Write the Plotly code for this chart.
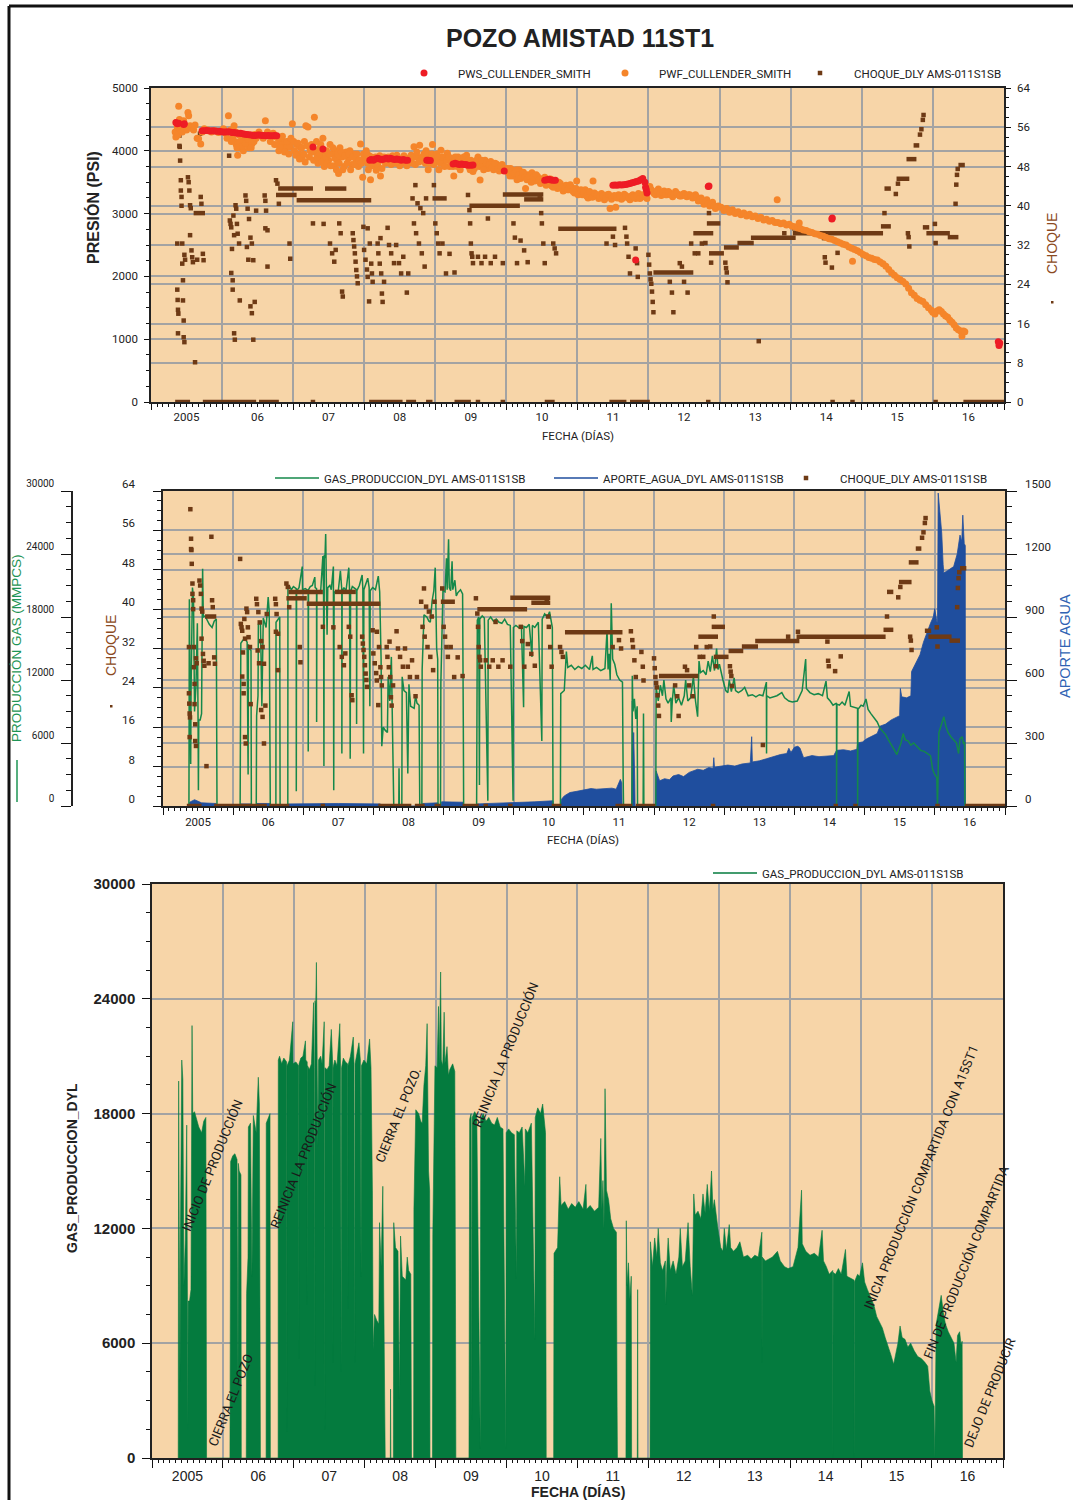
import pandas as pd
import plotly.graph_objects as go

W, H = 1073, 1500

# ---------------------------------------------------------------- data
# (decimal year, value) pairs
GAS = [
    (2005.370, 0), (2005.376, 19700), (2005.385, 11400), (2005.395, 4000), (2005.400, 11000),
    (2005.420, 20800), (2005.435, 19800), (2005.450, 9000), (2005.470, 11400), (2005.490, 17400),
    (2005.500, 8300), (2005.505, 1500), (2005.510, 8200), (2005.530, 8200), (2005.550, 8800),
    (2005.565, 22600), (2005.575, 18000), (2005.600, 18100), (2005.630, 17700), (2005.660, 17300),
    (2005.700, 17000), (2005.730, 17600), (2005.760, 17800), (2005.770, 0),
    (2006.100, 0), (2006.105, 12500), (2006.110, 15500), (2006.140, 15800), (2006.170, 15900),
    (2006.200, 15600), (2006.214, 3000), (2006.218, 15400), (2006.230, 15000), (2006.255, 14800),
    (2006.260, 0),
    (2006.330, 0), (2006.335, 8600), (2006.355, 10500), (2006.360, 17300), (2006.390, 17500),
    (2006.410, 9500), (2006.430, 17900), (2006.470, 17000), (2006.500, 19900), (2006.515, 18500),
    (2006.530, 0),
    (2006.610, 0), (2006.612, 17500), (2006.640, 17800), (2006.665, 18000), (2006.670, 0),
    (2006.780, 0), (2006.782, 20800), (2006.800, 21000), (2006.830, 20600), (2006.860, 20900),
    (2006.900, 20700), (2006.901, 1400), (2006.905, 20500), (2006.940, 20800), (2006.986, 22800),
    (2006.990, 20600), (2007.030, 20700), (2007.070, 20500), (2007.071, 5200), (2007.075, 20600),
    (2007.100, 20900), (2007.130, 21000), (2007.165, 21800), (2007.170, 20800), (2007.190, 20700),
    (2007.191, 8000), (2007.195, 20500), (2007.220, 20300), (2007.250, 20600), (2007.280, 23800),
    (2007.290, 20400), (2007.295, 3800), (2007.300, 23900), (2007.310, 23600), (2007.320, 25900),
    (2007.330, 21000), (2007.340, 16300), (2007.350, 20800), (2007.380, 21000), (2007.400, 20600),
    (2007.430, 22800), (2007.435, 1500), (2007.440, 20400), (2007.470, 20300), (2007.500, 20500),
    (2007.530, 22400), (2007.550, 20600), (2007.551, 5000), (2007.555, 20400), (2007.580, 20800),
    (2007.610, 20500), (2007.650, 22700), (2007.660, 20600), (2007.670, 4500), (2007.675, 20400),
    (2007.700, 20900), (2007.730, 20700), (2007.760, 20600), (2007.761, 7800), (2007.765, 20500),
    (2007.800, 21000), (2007.840, 22000), (2007.850, 20700), (2007.860, 5000), (2007.865, 20600),
    (2007.900, 21200), (2007.920, 21700), (2007.940, 20800), (2007.950, 9500), (2007.955, 20500),
    (2007.990, 20800), (2008.030, 20600), (2008.070, 21900), (2008.090, 20400), (2008.100, 18000),
    (2008.110, 14000), (2008.120, 5700),
    (2008.140, 7500), (2008.170, 7200), (2008.200, 7000), (2008.210, 12300), (2008.233, 10000),
    (2008.256, 14200), (2008.270, 9500), (2008.290, 0), (2008.362, 0), (2008.365, 3600),
    (2008.370, 0), (2008.405, 0), (2008.410, 12300), (2008.435, 11000), (2008.470, 10800),
    (2008.490, 3100), (2008.506, 11600), (2008.530, 9500), (2008.580, 9300), (2008.600, 10500),
    (2008.620, 9800), (2008.650, 9600), (2008.660, 0), (2008.690, 0), (2008.694, 13000),
    (2008.720, 18200), (2008.760, 18000), (2008.790, 17600), (2008.810, 17500), (2008.835, 19500),
    (2008.860, 20500), (2008.880, 22700), (2008.900, 15000), (2008.915, 14000), (2008.920, 0),
    (2008.955, 0), (2008.960, 11700), (2008.990, 20500), (2009.020, 20400), (2009.040, 23600),
    (2009.050, 20600), (2009.070, 25400), (2009.080, 20800), (2009.100, 20500), (2009.120, 23300),
    (2009.130, 20600), (2009.160, 21500), (2009.180, 20000), (2009.200, 20300), (2009.240, 20600),
    (2009.270, 20200), (2009.280, 8000), (2009.285, 0),
    (2009.470, 0), (2009.472, 11500), (2009.480, 17700), (2009.500, 18000), (2009.510, 2000),
    (2009.515, 17800), (2009.550, 18100), (2009.580, 17900), (2009.630, 500), (2009.635, 17700),
    (2009.670, 18000), (2009.710, 17600), (2009.750, 17800), (2009.790, 17500), (2009.830, 17400),
    (2009.870, 17800), (2009.910, 17300), (2009.950, 17200), (2009.990, 500), (2009.995, 17000),
    (2010.030, 17200), (2010.070, 17000), (2010.110, 16900), (2010.140, 9400), (2010.145, 17100),
    (2010.180, 17000), (2010.220, 17300), (2010.260, 14200), (2010.265, 17200), (2010.300, 17000),
    (2010.350, 17500), (2010.400, 6200), (2010.405, 17800), (2010.440, 18300), (2010.480, 18000),
    (2010.510, 18500), (2010.530, 17600), (2010.550, 17000), (2010.560, 0),
    (2010.665, 0), (2010.670, 10700), (2010.720, 11000), (2010.740, 13500), (2010.750, 14700),
    (2010.770, 13200), (2010.820, 13400), (2010.870, 13000), (2010.920, 13300), (2010.970, 13100),
    (2011.020, 13400), (2011.080, 13000), (2011.120, 14300), (2011.130, 13000), (2011.180, 13200),
    (2011.240, 12900), (2011.300, 13100), (2011.330, 16700), (2011.345, 13000), (2011.360, 14500),
    (2011.375, 12000), (2011.390, 19300), (2011.410, 14000), (2011.440, 13500), (2011.470, 12500),
    (2011.510, 12000), (2011.550, 11800), (2011.560, 2700), (2011.565, 0),
    (2011.685, 0), (2011.690, 12400), (2011.700, 9000), (2011.720, 10200), (2011.740, 8300),
    (2011.760, 9500), (2011.765, 0),
    (2011.845, 0), (2011.850, 8800), (2011.855, 0),
    (2012.025, 0), (2012.030, 11300), (2012.060, 10000), (2012.090, 11500), (2012.120, 10500),
    (2012.140, 12000), (2012.170, 10200), (2012.200, 9800), (2012.240, 10300), (2012.245, 8000),
    (2012.260, 10000), (2012.280, 11500), (2012.310, 9800), (2012.350, 10300), (2012.390, 9600),
    (2012.430, 10500), (2012.450, 12000), (2012.480, 10000), (2012.520, 10300), (2012.560, 12300),
    (2012.590, 10000), (2012.620, 8500), (2012.640, 13800), (2012.660, 12700), (2012.700, 12900),
    (2012.740, 12500), (2012.770, 13800), (2012.800, 12800), (2012.830, 14300), (2012.860, 12900),
    (2012.890, 15000), (2012.910, 13000), (2012.930, 13500), (2012.960, 12500), (2012.980, 12000),
    (2013.020, 11000), (2013.050, 10800), (2013.070, 12000), (2013.100, 10900), (2013.140, 12200),
    (2013.160, 11000), (2013.200, 10800), (2013.250, 11000), (2013.290, 11300), (2013.340, 10500),
    (2013.400, 10600), (2013.450, 10400), (2013.500, 10600), (2013.550, 10500), (2013.600, 11800),
    (2013.602, 5000), (2013.605, 10500), (2013.650, 10300), (2013.700, 10400), (2013.750, 10500),
    (2013.820, 10800), (2013.860, 10300), (2013.920, 10000), (2013.970, 9900), (2014.040, 10000),
    (2014.080, 10500), (2014.110, 11000), (2014.160, 14000), (2014.170, 11200), (2014.220, 10800),
    (2014.280, 10600), (2014.340, 10700), (2014.400, 10500), (2014.450, 11900), (2014.470, 10300),
    (2014.510, 10000), (2014.550, 9600), (2014.600, 9800), (2014.601, 0), (2014.606, 9700),
    (2014.640, 9600), (2014.680, 9900), (2014.720, 9600), (2014.780, 10900), (2014.800, 9500),
    (2014.850, 9400), (2014.900, 9300), (2014.901, 0), (2014.906, 9200), (2014.950, 9600),
    (2014.980, 9500), (2015.020, 10200), (2015.050, 9200), (2015.090, 8800), (2015.130, 8400),
    (2015.180, 8000), (2015.220, 7400), (2015.260, 7100), (2015.300, 6800), (2015.340, 6300),
    (2015.380, 5900), (2015.420, 5400), (2015.460, 4900), (2015.480, 5300), (2015.520, 6000),
    (2015.550, 6900), (2015.580, 6300), (2015.620, 6200), (2015.660, 5800), (2015.700, 6000),
    (2015.750, 5600), (2015.800, 5300), (2015.850, 5200), (2015.900, 5000), (2015.940, 4800),
    (2015.970, 3500), (2016.000, 3000), (2016.030, 2700), (2016.040, 0), (2016.060, 7000),
    (2016.100, 7800), (2016.130, 8500), (2016.160, 7600), (2016.190, 7000), (2016.230, 6600),
    (2016.270, 6300), (2016.310, 6000), (2016.340, 5000), (2016.360, 6400), (2016.390, 6600),
    (2016.410, 5900), (2016.425, 6100), (2016.430, 0),
]

WATER = [
    (2005.370, 0), (2005.380, 18), (2005.450, 30), (2005.550, 15), (2005.760, 12), (2005.770, 0),
    (2006.100, 0), (2006.110, 10), (2006.260, 10), (2006.270, 0),
    (2006.330, 0), (2006.340, 12), (2006.530, 12), (2006.540, 0),
    (2006.780, 0), (2006.790, 10), (2007.500, 12), (2008.100, 10), (2008.110, 0),
    (2008.690, 0), (2008.700, 12), (2008.920, 15), (2008.930, 0),
    (2008.960, 0), (2008.970, 20), (2009.280, 18), (2009.285, 0),
    (2009.470, 0), (2009.480, 10), (2010.000, 15), (2010.300, 20), (2010.560, 25), (2010.565, 0),
    (2010.665, 0), (2010.680, 32), (2010.720, 48), (2010.800, 64), (2010.900, 70), (2011.000, 75),
    (2011.100, 83), (2011.180, 80), (2011.300, 82), (2011.400, 85), (2011.460, 80), (2011.490, 103),
    (2011.520, 127), (2011.540, 110), (2011.545, 0),
    (2011.680, 0), (2011.685, 380), (2011.690, 500), (2011.700, 250), (2011.710, 350),
    (2011.725, 120), (2011.730, 0),
    (2012.025, 0), (2012.030, 167), (2012.080, 120), (2012.150, 130), (2012.220, 125),
    (2012.270, 143), (2012.350, 150), (2012.420, 140), (2012.500, 160), (2012.550, 167),
    (2012.620, 175), (2012.700, 170), (2012.780, 183), (2012.840, 178), (2012.850, 230),
    (2012.860, 185), (2012.950, 190), (2013.050, 195), (2013.150, 190), (2013.250, 200),
    (2013.370, 205), (2013.390, 330), (2013.400, 210), (2013.500, 215), (2013.600, 225),
    (2013.700, 235), (2013.800, 245), (2013.890, 250), (2013.920, 275), (2013.950, 255),
    (2014.000, 280), (2014.050, 285), (2014.080, 275), (2014.130, 230), (2014.250, 240),
    (2014.350, 235), (2014.450, 238), (2014.560, 240), (2014.600, 265), (2014.700, 268),
    (2014.800, 262), (2014.890, 270), (2014.900, 300), (2014.970, 305), (2015.030, 320),
    (2015.100, 330), (2015.180, 345), (2015.220, 380), (2015.300, 390), (2015.380, 410),
    (2015.460, 425), (2015.500, 430), (2015.510, 560), (2015.530, 520), (2015.600, 515),
    (2015.660, 525), (2015.670, 640), (2015.730, 680), (2015.790, 720), (2015.840, 780),
    (2015.890, 830), (2015.940, 870), (2015.980, 900), (2016.000, 940), (2016.030, 880),
    (2016.040, 870), (2016.050, 1490), (2016.070, 1420), (2016.090, 1350), (2016.100, 1300),
    (2016.120, 1150), (2016.130, 1110), (2016.180, 1120), (2016.230, 1130), (2016.270, 1140),
    (2016.320, 1200), (2016.360, 1290), (2016.385, 1260), (2016.400, 1385), (2016.420, 1250),
    (2016.435, 1240), (2016.437, 0),
]

# individual choke readings
CHOKE = [
    (2005.370, 32.3), (2005.370, 22.9), (2005.375, 20.8), (2005.380, 18.8), (2005.380, 14.0),
    (2005.385, 18.0), (2005.390, 60.3), (2005.400, 54.3), (2005.400, 52.2), (2005.405, 52.0),
    (2005.410, 49.2), (2005.420, 45.2), (2005.420, 43.1), (2005.430, 41.8), (2005.430, 40.0),
    (2005.440, 32.3), (2005.440, 28.2), (2005.450, 24.8), (2005.450, 20.7), (2005.460, 16.6),
    (2005.460, 13.2), (2005.470, 12.2), (2005.470, 30.0), (2005.480, 29.0), (2005.520, 45.8),
    (2005.530, 44.8), (2005.540, 43.1), (2005.550, 40.1), (2005.560, 39.5), (2005.570, 30.9),
    (2005.580, 29.5), (2005.590, 28.5), (2005.620, 8.1), (2005.650, 29.0), (2005.550, 34.0),
    (2005.690, 54.7), (2005.700, 41.8), (2005.710, 40.4), (2005.730, 30.2), (2005.740, 28.9),
    (2006.100, 50.2), (2006.110, 37.0), (2006.120, 36.3), (2006.130, 35.6), (2006.130, 26.3),
    (2006.140, 31.2), (2006.150, 24.8), (2006.150, 22.9), (2006.160, 38.0), (2006.170, 34.0),
    (2006.170, 14.0), (2006.180, 12.7), (2006.190, 40.1), (2006.200, 39.4), (2006.210, 36.3),
    (2006.220, 34.3), (2006.240, 32.3), (2006.250, 20.7), (2006.330, 42.1), (2006.340, 41.0),
    (2006.350, 31.6), (2006.360, 39.4), (2006.370, 29.0), (2006.380, 37.3), (2006.400, 33.5),
    (2006.400, 19.5), (2006.420, 32.3), (2006.420, 18.1), (2006.440, 28.9), (2006.440, 12.7),
    (2006.460, 20.4), (2006.480, 39.0), (2006.600, 42.1), (2006.610, 41.0), (2006.610, 35.4),
    (2006.620, 39.0), (2006.640, 35.0), (2006.640, 27.6), (2006.760, 45.2), (2006.780, 44.5),
    (2006.800, 40.4), (2006.950, 32.3), (2006.960, 29.2),
    (2007.280, 36.4), (2007.430, 36.3), (2007.520, 32.3), (2007.550, 30.3), (2007.580, 28.6),
    (2007.600, 31.0), (2007.650, 36.4), (2007.670, 34.4), (2007.690, 22.5), (2007.700, 21.5),
    (2007.840, 34.4), (2007.850, 33.0), (2007.860, 31.7), (2007.870, 30.3), (2007.880, 28.6),
    (2007.890, 26.9), (2007.900, 25.6), (2007.910, 24.2), (2007.990, 35.7), (2008.000, 31.0),
    (2008.020, 29.0), (2008.040, 27.0), (2008.050, 25.5), (2008.070, 20.5),
    (2008.050, 35.4), (2008.080, 32.3), (2008.100, 28.2), (2008.110, 26.2), (2008.120, 24.5),
    (2008.190, 32.3), (2008.200, 30.3), (2008.220, 28.2), (2008.230, 33.4), (2008.240, 26.2),
    (2008.250, 22.1), (2008.260, 20.4), (2008.280, 24.5), (2008.330, 35.5), (2008.350, 32.0),
    (2008.380, 30.3), (2008.420, 28.3), (2008.450, 32.0), (2008.490, 28.3), (2008.520, 26.2),
    (2008.550, 29.6), (2008.600, 22.3), (2008.620, 26.2), (2008.680, 41.5), (2008.700, 36.4),
    (2008.720, 44.2), (2008.730, 34.4), (2008.750, 40.5), (2008.770, 32.3), (2008.790, 39.5),
    (2008.810, 30.3), (2008.830, 38.5), (2008.850, 27.6), (2008.870, 41.5),
    (2008.980, 44.2), (2009.000, 36.4), (2009.020, 34.4), (2009.040, 32.3), (2009.060, 30.3),
    (2009.100, 32.3), (2009.150, 26.2), (2009.200, 30.2), (2009.270, 26.4), (2009.460, 42.2),
    (2009.480, 39.1), (2009.490, 36.4), (2009.500, 32.3), (2009.510, 30.3), (2009.520, 29.6),
    (2009.530, 28.3), (2009.600, 29.6), (2009.650, 28.3), (2009.700, 29.6), (2009.740, 37.4),
    (2009.780, 28.3), (2009.840, 29.6), (2009.950, 28.3), (2010.100, 36.4), (2010.120, 33.5),
    (2010.150, 28.3), (2010.200, 32.9), (2010.250, 30.9), (2010.300, 28.5),
    (2010.470, 41.5), (2010.490, 38.5), (2010.500, 36.4), (2010.520, 32.3), (2010.540, 28.3),
    (2010.660, 32.3), (2010.680, 31.3), (2010.700, 30.3),
    (2011.410, 32.3), (2011.500, 33.7), (2011.530, 32.0), (2011.670, 35.5), (2011.690, 33.7),
    (2011.700, 32.3), (2011.720, 29.6), (2011.740, 26.2), (2011.820, 31.3), (2011.840, 28.3),
    (2011.850, 25.5),
    (2012.000, 30.0), (2012.010, 28.0), (2012.020, 26.2), (2012.030, 25.0), (2012.040, 24.1),
    (2012.050, 22.5), (2012.060, 20.4), (2012.070, 18.3), (2012.300, 24.5), (2012.330, 22.3),
    (2012.350, 18.3), (2012.440, 28.3), (2012.470, 27.6), (2012.500, 24.5), (2012.550, 22.3),
    (2012.600, 32.3), (2012.650, 30.3), (2012.700, 30.3), (2012.750, 32.3), (2012.800, 32.4),
    (2012.850, 38.5), (2012.880, 28.4),
    (2013.080, 28.4), (2013.090, 27.3), (2013.100, 26.4), (2013.110, 24.4), (2013.550, 12.4),
    (2013.910, 34.4), (2014.050, 35.4), (2014.470, 33.4), (2014.480, 29.5), (2014.490, 28.4),
    (2014.580, 27.4), (2014.660, 30.4),
    (2015.320, 38.5), (2015.480, 42.4), (2015.510, 44.5), (2015.650, 34.4), (2015.660, 33.6),
    (2015.670, 31.7), (2015.820, 54.5), (2015.840, 55.6), (2015.860, 57.5), (2015.870, 58.5),
    (2016.030, 36.3), (2016.040, 32.4), (2016.320, 40.4), (2016.330, 44.3), (2016.340, 46.3),
    (2016.350, 47.5),
    (2007.280, 0), (2009.600, 0), (2009.950, 0), (2012.840, 0), (2014.590, 0), (2014.870, 0),
    (2016.040, 0),
]

# periods with a steady choke setting: (start, end, choke)
CHOKE_RUNS = [
    (2005.34, 2005.55, 0), (2005.73, 2006.48, 0), (2006.52, 2006.80, 0),
    (2005.60, 2005.76, 38.5),
    (2006.79, 2007.28, 43.5), (2007.45, 2007.75, 43.5), (2006.76, 2007.05, 42.2),
    (2007.05, 2008.10, 41.1),
    (2008.07, 2008.54, 0), (2008.59, 2008.73, 0), (2008.87, 2008.96, 0),
    (2008.96, 2009.16, 41.5), (2009.27, 2009.50, 0),
    (2009.48, 2010.19, 40.0), (2009.95, 2010.52, 42.3), (2010.25, 2010.52, 41.3),
    (2010.54, 2010.68, 0), (2010.73, 2011.55, 35.3),
    (2011.45, 2011.69, 0), (2011.74, 2012.02, 0),
    (2012.07, 2012.63, 26.4), (2012.63, 2012.91, 34.4), (2012.82, 2013.01, 36.4),
    (2012.85, 2013.06, 30.3), (2013.06, 2013.27, 31.5), (2013.25, 2013.48, 32.4),
    (2013.44, 2014.07, 33.5), (2014.03, 2015.30, 34.4), (2015.27, 2015.41, 35.8),
    (2015.32, 2015.41, 43.5), (2015.49, 2015.67, 45.5), (2015.63, 2015.77, 49.5),
    (2015.73, 2015.81, 52.3), (2015.86, 2015.95, 35.6), (2015.91, 2016.24, 34.4),
    (2016.21, 2016.36, 33.6), (2016.36, 2016.45, 48.3), (2016.43, 2017.00, 0),
]

PWF = [
    (2005.34, 4300), (2005.35, 4220), (2005.36, 4450), (2005.37, 4380), (2005.38, 4250),
    (2005.39, 4710), (2005.40, 4500), (2005.41, 4350), (2005.42, 4420), (2005.44, 4300),
    (2005.46, 4480), (2005.48, 4380), (2005.50, 4330), (2005.52, 4610), (2005.53, 4560),
    (2005.55, 4400), (2005.57, 4360), (2005.60, 4330), (2005.62, 4410), (2005.65, 4200),
    (2005.67, 4190), (2005.70, 4110), (2005.72, 4300), (2005.75, 4350), (2005.80, 4330),
    (2005.85, 4300), (2005.90, 4320), (2005.95, 4290),
    (2006.05, 4280), (2006.09, 4560), (2006.12, 4330), (2006.15, 4200), (2006.17, 4400),
    (2006.18, 4150), (2006.20, 4100), (2006.22, 3930), (2006.24, 4250), (2006.26, 4050),
    (2006.28, 4150), (2006.30, 4000), (2006.32, 4200), (2006.35, 4100), (2006.38, 4050),
    (2006.40, 4220), (2006.43, 4120), (2006.46, 4260), (2006.50, 4240), (2006.55, 4250),
    (2006.61, 4480), (2006.66, 4250), (2006.70, 4230), (2006.76, 4220), (2006.78, 4100),
    (2006.80, 4000), (2006.83, 4180), (2006.86, 4100), (2006.90, 4050), (2006.93, 4150),
    (2006.96, 4060), (2006.99, 4430),
    (2006.02, 4350), (2006.07, 4200), (2006.13, 4150), (2006.19, 4300), (2006.21, 4050),
    (2006.25, 4150), (2006.29, 4080), (2006.33, 4120), (2006.37, 4180), (2006.41, 4050),
    (2006.45, 4150), (2006.48, 4200), (2006.52, 4300), (2006.58, 4200), (2006.64, 4300),
    (2006.68, 4150), (2006.72, 4280), (2006.74, 4100), (2006.79, 4200), (2006.82, 4050),
    (2006.85, 4230), (2006.88, 3980), (2006.91, 4150), (2006.94, 3950), (2006.97, 4200),
    (2007.02, 4000), (2007.05, 4100), (2007.08, 3950), (2007.10, 4060), (2007.13, 3900),
    (2007.16, 4150), (2007.18, 4400), (2007.21, 4380), (2007.24, 4000), (2007.28, 3980),
    (2007.30, 4535), (2007.33, 4150), (2007.35, 3800), (2007.38, 4050), (2007.40, 3900),
    (2007.42, 4200), (2007.44, 3750), (2007.47, 4000), (2007.50, 3850), (2007.52, 4100),
    (2007.55, 3950), (2007.58, 3760), (2007.60, 4000), (2007.62, 3850), (2007.64, 3640),
    (2007.66, 4050), (2007.69, 3900), (2007.72, 3750), (2007.75, 3980), (2007.78, 3880),
    (2007.80, 4000), (2007.83, 3780), (2007.86, 3950), (2007.89, 3850), (2007.92, 3750),
    (2007.95, 4110), (2007.98, 3580), (2008.00, 3900),
    (2007.01, 4150), (2007.04, 3930), (2007.07, 4120), (2007.09, 3870), (2007.12, 4050),
    (2007.15, 3950), (2007.17, 3820), (2007.20, 4080), (2007.23, 3900), (2007.26, 4100),
    (2007.29, 3850), (2007.32, 4000), (2007.34, 3900), (2007.37, 3950), (2007.39, 4100),
    (2007.41, 3820), (2007.43, 4000), (2007.46, 3900), (2007.48, 3800), (2007.51, 3950),
    (2007.53, 3760), (2007.56, 4050), (2007.59, 3880), (2007.61, 3700), (2007.63, 3950),
    (2007.65, 3800), (2007.68, 3980), (2007.70, 3700), (2007.73, 3920), (2007.76, 3800),
    (2007.79, 3950), (2007.81, 3700), (2007.84, 3900), (2007.87, 3780), (2007.90, 3950),
    (2007.93, 3850), (2007.96, 3800), (2007.99, 3950),
    (2008.03, 4000), (2008.05, 3800), (2008.07, 3920), (2008.09, 3540), (2008.11, 3760),
    (2008.14, 3880), (2008.17, 3690), (2008.20, 3880), (2008.23, 3600), (2008.26, 3850),
    (2008.30, 3800), (2008.34, 3900), (2008.38, 3780), (2008.42, 3850), (2008.46, 3930),
    (2008.50, 3760), (2008.54, 3860), (2008.58, 3800), (2008.62, 3880), (2008.66, 3930),
    (2008.70, 4065), (2008.72, 3780), (2008.75, 3900), (2008.78, 4090), (2008.80, 3850),
    (2008.84, 3950), (2008.87, 4000), (2008.90, 3700), (2008.93, 3900), (2008.96, 4100),
    (2008.99, 3850),
    (2008.02, 3850), (2008.04, 3950), (2008.06, 3700), (2008.08, 3850), (2008.10, 3900),
    (2008.13, 3800), (2008.16, 3900), (2008.19, 3780), (2008.22, 3920), (2008.25, 3720),
    (2008.28, 3900), (2008.32, 3850), (2008.36, 3800), (2008.40, 3920), (2008.44, 3800),
    (2008.48, 3880), (2008.52, 3820), (2008.56, 3920), (2008.60, 3760), (2008.64, 3850),
    (2008.68, 3800), (2008.71, 3900), (2008.74, 3980), (2008.77, 3820), (2008.82, 3900),
    (2008.86, 3800), (2008.89, 3950), (2008.92, 3800), (2008.95, 3950), (2008.98, 3780),
    (2009.02, 3950), (2009.05, 3700), (2009.08, 4010), (2009.11, 3800), (2009.14, 3900),
    (2009.17, 3960), (2009.20, 3750), (2009.23, 3880), (2009.26, 3600), (2009.29, 3800),
    (2009.32, 3900), (2009.35, 3700), (2009.38, 3850), (2009.41, 3780), (2009.44, 3930),
    (2009.47, 3750), (2009.50, 3850), (2009.53, 3670), (2009.56, 3800), (2009.60, 3900),
    (2009.63, 3535), (2009.66, 3780), (2009.70, 3850), (2009.74, 3720), (2009.78, 3830),
    (2009.82, 3700), (2009.86, 3790), (2009.90, 3680), (2009.94, 3780), (2009.98, 3720),
    (2009.01, 3850), (2009.04, 3900), (2009.07, 3800), (2009.10, 3900), (2009.13, 3750),
    (2009.16, 3850), (2009.19, 3900), (2009.22, 3800), (2009.25, 3750), (2009.28, 3900),
    (2009.31, 3750), (2009.34, 3850), (2009.37, 3780), (2009.40, 3900), (2009.43, 3800),
    (2009.46, 3850), (2009.49, 3700), (2009.52, 3800), (2009.55, 3720), (2009.58, 3850),
    (2009.62, 3750), (2009.65, 3850), (2009.68, 3700), (2009.72, 3800), (2009.76, 3780),
    (2009.80, 3740), (2009.84, 3800), (2009.88, 3720), (2009.92, 3760), (2009.96, 3700),
    (2010.00, 3700), (2010.03, 3650), (2010.06, 3720), (2010.09, 3600), (2010.12, 3680),
    (2010.15, 3540), (2010.18, 3700), (2010.21, 3600), (2010.24, 3660), (2010.27, 3400),
    (2010.30, 3620), (2010.33, 3560), (2010.36, 3650), (2010.40, 3520), (2010.44, 3590),
    (2010.48, 3480), (2010.52, 3560), (2010.56, 3450), (2010.60, 3530), (2010.64, 3440),
    (2010.68, 3500), (2010.72, 3400), (2010.76, 3480), (2010.80, 3360), (2010.84, 3450),
    (2010.88, 3380), (2010.92, 3420), (2010.96, 3330), (2010.99, 3520),
    (2010.02, 3720), (2010.05, 3600), (2010.08, 3680), (2010.11, 3640), (2010.14, 3700),
    (2010.17, 3620), (2010.20, 3560), (2010.23, 3640), (2010.26, 3580), (2010.29, 3540),
    (2010.32, 3600), (2010.35, 3500), (2010.38, 3580), (2010.42, 3620), (2010.46, 3540),
    (2010.50, 3500), (2010.54, 3580), (2010.58, 3480), (2010.62, 3550), (2010.66, 3420),
    (2010.70, 3460), (2010.74, 3500), (2010.78, 3420), (2010.82, 3400), (2010.86, 3380),
    (2010.90, 3460), (2010.94, 3350), (2010.98, 3400),
    (2011.03, 3350), (2011.07, 3300), (2011.11, 3380), (2011.15, 3250), (2011.19, 3330),
    (2011.22, 3520), (2011.26, 3280), (2011.30, 3240), (2011.34, 3320), (2011.38, 3220),
    (2011.42, 3300), (2011.46, 3080), (2011.50, 3260), (2011.54, 3100), (2011.58, 3300),
    (2011.62, 3230), (2011.66, 3310), (2011.70, 3270), (2011.74, 3220), (2011.78, 3300),
    (2011.82, 3240), (2011.86, 3320), (2011.90, 3260), (2011.94, 3290), (2011.98, 3240),
    (2011.01, 3300), (2011.05, 3380), (2011.09, 3330), (2011.13, 3280), (2011.17, 3350),
    (2011.21, 3260), (2011.24, 3330), (2011.28, 3300), (2011.32, 3270), (2011.36, 3280),
    (2011.40, 3250), (2011.44, 3310), (2011.48, 3230), (2011.52, 3290), (2011.56, 3250),
    (2011.60, 3280), (2011.64, 3250), (2011.68, 3290), (2011.72, 3250), (2011.76, 3280),
    (2011.80, 3260), (2011.84, 3280), (2011.88, 3240), (2011.92, 3300), (2011.96, 3270),
    (2012.02, 3430), (2012.06, 3350), (2012.10, 3300), (2012.14, 3390), (2012.18, 3290),
    (2012.22, 3360), (2012.26, 3300), (2012.30, 3330), (2012.34, 3270), (2012.38, 3350),
    (2012.42, 3300), (2012.46, 3280), (2012.50, 3320), (2012.54, 3270), (2012.58, 3300),
    (2012.62, 3250), (2012.66, 3300), (2012.70, 3200), (2012.74, 3250), (2012.78, 3150),
    (2012.82, 3220), (2012.86, 3120), (2012.90, 3180), (2012.94, 3080), (2012.98, 3120),
    (2012.04, 3380), (2012.08, 3320), (2012.12, 3360), (2012.16, 3320), (2012.20, 3340),
    (2012.24, 3300), (2012.28, 3350), (2012.32, 3300), (2012.36, 3310), (2012.40, 3320),
    (2012.44, 3280), (2012.48, 3310), (2012.52, 3290), (2012.56, 3300), (2012.60, 3280),
    (2012.64, 3270), (2012.68, 3260), (2012.72, 3220), (2012.76, 3200), (2012.80, 3180),
    (2012.84, 3160), (2012.88, 3150), (2012.92, 3120), (2012.96, 3100),
    (2013.02, 3100), (2013.06, 3050), (2013.10, 3080), (2013.14, 3020), (2013.18, 3060),
    (2013.22, 3000), (2013.26, 3030), (2013.30, 2980), (2013.34, 3010), (2013.38, 2960),
    (2013.42, 2990), (2013.46, 2950), (2013.50, 2960), (2013.54, 2920), (2013.58, 2940),
    (2013.62, 2900), (2013.66, 2910), (2013.70, 2880), (2013.74, 2890), (2013.78, 2860),
    (2013.81, 3220), (2013.82, 2860), (2013.86, 2840), (2013.90, 2850), (2013.94, 2820),
    (2013.98, 2830),
    (2014.02, 2800), (2014.06, 2790), (2014.10, 2770), (2014.12, 2850), (2014.14, 2760),
    (2014.18, 2740), (2014.22, 2730), (2014.26, 2710), (2014.30, 2700), (2014.34, 2680),
    (2014.38, 2670), (2014.42, 2650), (2014.46, 2640), (2014.50, 2620), (2014.54, 2600),
    (2014.58, 2590), (2014.62, 2570), (2014.66, 2550), (2014.70, 2530), (2014.74, 2510),
    (2014.78, 2500), (2014.82, 2470), (2014.86, 2450), (2014.87, 2240), (2014.90, 2430),
    (2014.94, 2410), (2014.98, 2380),
    (2015.02, 2350), (2015.06, 2330), (2015.10, 2300), (2015.14, 2290), (2015.18, 2270),
    (2015.22, 2260), (2015.26, 2230), (2015.30, 2200), (2015.34, 2160), (2015.38, 2110),
    (2015.42, 2060), (2015.46, 2020), (2015.50, 1980), (2015.54, 1950), (2015.58, 1920),
    (2015.62, 1880), (2015.66, 1810), (2015.70, 1740), (2015.74, 1700), (2015.78, 1650),
    (2015.82, 1620), (2015.86, 1600), (2015.90, 1550), (2015.94, 1500), (2015.98, 1460),
    (2016.00, 1430), (2016.03, 1400), (2016.06, 1450), (2016.09, 1470), (2016.12, 1440),
    (2016.15, 1400), (2016.18, 1370), (2016.21, 1350), (2016.24, 1300), (2016.27, 1270),
    (2016.30, 1230), (2016.33, 1180), (2016.36, 1150), (2016.39, 1130), (2016.41, 1050),
    (2016.43, 1130), (2016.45, 1120),
]

PWS = [
    (2005.35, 4450), (2005.37, 4430), (2005.39, 4440), (2005.46, 4420), (2005.47, 4430),
    (2005.72, 4320), (2005.75, 4320), (2005.78, 4325), (2005.81, 4320), (2005.84, 4315),
    (2005.87, 4320), (2005.90, 4315), (2005.93, 4310), (2005.96, 4310), (2005.99, 4305),
    (2006.02, 4300), (2006.05, 4300), (2006.08, 4305), (2006.11, 4300), (2006.14, 4290),
    (2006.17, 4290), (2006.20, 4285), (2006.23, 4280), (2006.26, 4280), (2006.29, 4270),
    (2006.32, 4265), (2006.35, 4260), (2006.38, 4255), (2006.41, 4250), (2006.44, 4245),
    (2006.47, 4245), (2006.50, 4250), (2006.53, 4250), (2006.56, 4245), (2006.59, 4245),
    (2006.62, 4240), (2006.65, 4245), (2006.68, 4240), (2006.71, 4240), (2006.74, 4245),
    (2006.77, 4240),
    (2007.28, 4060), (2007.42, 4030),
    (2008.08, 3850), (2008.10, 3860), (2008.13, 3850), (2008.16, 3870), (2008.19, 3880),
    (2008.22, 3870), (2008.25, 3860), (2008.28, 3870), (2008.31, 3880), (2008.34, 3870),
    (2008.37, 3880), (2008.40, 3870), (2008.43, 3860), (2008.46, 3870), (2008.49, 3860),
    (2008.52, 3850), (2008.55, 3860), (2008.58, 3850), (2008.61, 3850),
    (2008.88, 3850), (2008.90, 3850), (2008.93, 3845),
    (2009.25, 3790), (2009.28, 3800), (2009.31, 3790), (2009.34, 3780), (2009.37, 3790),
    (2009.40, 3780), (2009.43, 3780), (2009.46, 3770), (2009.50, 3770), (2009.53, 3775),
    (2009.97, 3680),
    (2010.54, 3530), (2010.57, 3540), (2010.60, 3545), (2010.63, 3535), (2010.66, 3530),
    (2010.69, 3530),
    (2011.50, 3450), (2011.53, 3455), (2011.56, 3450), (2011.59, 3460), (2011.62, 3455),
    (2011.65, 3460), (2011.68, 3465), (2011.71, 3470), (2011.74, 3480), (2011.77, 3490),
    (2011.80, 3500), (2011.83, 3510), (2011.86, 3520), (2011.89, 3540), (2011.92, 3560),
    (2011.95, 3500), (2011.96, 3420), (2011.97, 3380), (2011.98, 3330),
    (2011.82, 2260),
    (2012.84, 3430), (2012.85, 3440),
    (2014.58, 2915), (2014.585, 2930),
    (2016.92, 960), (2016.93, 900), (2016.94, 940),
]

YEAR_TICK_FIRST = {"05": "2005"}

# ---------------------------------------------------------------- styling
BG = "#F7D5A8"
GRID = "#A3A3A3"
BROWN = "#6E3A15"
ORANGE = "#F5852A"
RED = "#EE1C25"
GREEN_FILL = "#047B3E"
GREEN_LINE = "#15884A"
BLUE = "#1F4E9E"
NARROW = "Roboto, Liberation Sans, Arial, sans-serif"
SANS = "Liberation Sans, Arial, sans-serif"


def to_date(v):
    year = int(v)
    start = pd.Timestamp(year=year, month=1, day=1)
    end = pd.Timestamp(year=year + 1, month=1, day=1)
    return start + (end - start) * (v - year)


def unzip(pairs):
    return [to_date(a) for a, _ in pairs], [b for _, b in pairs]


def runs_xy(runs):
    xs, ys = [], []
    for a, b, v in runs:
        xs += [to_date(a), to_date(b), None]
        ys += [v, v, None]
    return xs, ys


def fx(p):
    return p / W


def fy(p):
    return 1 - p / H


gas_x, gas_y = unzip(GAS)
wat_x, wat_y = unzip(WATER)
ck_x, ck_y = unzip(CHOKE)
run_x, run_y = runs_xy(CHOKE_RUNS)
pwf_x, pwf_y = unzip(PWF)
pws_x, pws_y = unzip(PWS)

fig = go.Figure()

# ---------------------------------------------------------------- top panel
fig.add_trace(go.Scatter(x=run_x, y=run_y, mode="lines", line=dict(color=BROWN, width=4.5),
                         xaxis="x", yaxis="y", showlegend=False, hoverinfo="skip"))
fig.add_trace(go.Scatter(x=ck_x, y=ck_y, mode="markers", name="CHOQUE_DLY AMS-011S1SB",
                         marker=dict(color=BROWN, size=4.5, symbol="square"),
                         xaxis="x", yaxis="y", legend="legend3"))
fig.add_trace(go.Scatter(x=pwf_x, y=pwf_y, mode="markers", name="PWF_CULLENDER_SMITH",
                         marker=dict(color=ORANGE, size=7), xaxis="x", yaxis="y2",
                         legend="legend2"))
fig.add_trace(go.Scatter(x=pws_x, y=pws_y, mode="markers", name="PWS_CULLENDER_SMITH",
                         marker=dict(color=RED, size=7), xaxis="x", yaxis="y2",
                         legend="legend"))

# ---------------------------------------------------------------- middle panel
fig.add_trace(go.Scatter(x=wat_x, y=wat_y, mode="lines", fill="tozeroy",
                         line=dict(color=BLUE, width=0.8), fillcolor=BLUE,
                         xaxis="x2", yaxis="y3", showlegend=False))
fig.add_trace(go.Scatter(x=[None], y=[None], mode="lines", name="APORTE_AGUA_DYL AMS-011S1SB",
                         line=dict(color=BLUE, width=1.5), xaxis="x2", yaxis="y3",
                         legend="legend5"))
fig.add_trace(go.Scatter(x=gas_x, y=gas_y, mode="lines", name="GAS_PRODUCCION_DYL AMS-011S1SB",
                         line=dict(color=GREEN_LINE, width=1.5), xaxis="x2", yaxis="y4",
                         legend="legend4"))
fig.add_trace(go.Scatter(x=run_x, y=run_y, mode="lines", line=dict(color=BROWN, width=4.5),
                         xaxis="x2", yaxis="y5", showlegend=False, hoverinfo="skip"))
fig.add_trace(go.Scatter(x=ck_x, y=ck_y, mode="markers", name="CHOQUE_DLY AMS-011S1SB",
                         marker=dict(color=BROWN, size=4.5, symbol="square"),
                         xaxis="x2", yaxis="y5", legend="legend6"))

# ---------------------------------------------------------------- bottom panel
fig.add_trace(go.Scatter(x=gas_x, y=gas_y, mode="lines", fill="tozeroy",
                         line=dict(color=GREEN_FILL, width=0.6), fillcolor=GREEN_FILL,
                         xaxis="x3", yaxis="y6", showlegend=False))
fig.add_trace(go.Scatter(x=[None], y=[None], mode="lines", name="GAS_PRODUCCION_DYL AMS-011S1SB",
                         line=dict(color=GREEN_FILL, width=1.5), xaxis="x3", yaxis="y6",
                         legend="legend7"))

# ---------------------------------------------------------------- axes
def xaxis(domain, anchor, size, ticklen, standoff):
    return dict(
        type="date", domain=domain, anchor=anchor, automargin=False,
        range=[to_date(2005), to_date(2017)], dtick="M12", tick0="2005-01-01",
        ticklabelmode="period", tickformat="%y", labelalias=YEAR_TICK_FIRST,
        ticks="outside", ticklen=ticklen, tickwidth=1.2, tickcolor="#111",
        ticklabelstandoff=standoff,
        tickfont=dict(family=NARROW if size < 13 else SANS, size=size, color="#222"),
        showgrid=True, gridcolor=GRID, gridwidth=1.5,
        minor=dict(dtick="M1", tick0="2005-01-01", ticks="outside", ticklen=3,
                   tickwidth=1, tickcolor="#111", showgrid=False),
        showline=True, linecolor="#222", linewidth=2, mirror=True, zeroline=False,
        fixedrange=True,
    )


def yaxis(rng, dtick, minor_dtick, minor_len=3, **kw):
    d = dict(range=rng, dtick=dtick, tick0=0, tickformat="d", ticks="outside", tickwidth=1.2,
             tickcolor="#111", showline=True, linecolor="#222", linewidth=1.5,
             zeroline=False, fixedrange=True, automargin=False,
             minor=dict(dtick=minor_dtick, ticks="outside", ticklen=minor_len, tickwidth=1,
                        tickcolor="#111", showgrid=False))
    d.update(kw)
    return d


top_dom = [fy(402), fy(88)]
mid_dom = [fy(806), fy(491)]
bot_dom = [fy(1458), fy(884)]
small = dict(family=NARROW, size=11.5, color="#222")
tiny = dict(family=NARROW, size=10, color="#222")

fig.update_layout(
    xaxis=xaxis([fx(151), fx(1004)], "y", 11.5, 6, -3),
    xaxis2=xaxis([fx(163), fx(1005)], "y3", 11.5, 7, -3),
    xaxis3=xaxis([fx(152), fx(1003)], "y6", 14, 8, -4),
    # top: choke (right) and pressure (left)
    yaxis=yaxis([0, 64], 8, 2, domain=top_dom, anchor="x", side="right", ticklen=5,
                tickfont=small, showgrid=True, gridcolor=GRID, gridwidth=1.5, mirror=True,
                ticklabelstandoff=4),
    yaxis2=yaxis([0, 5000], 1000, 250, overlaying="y", anchor="x", side="left", ticklen=5,
                 tickfont=small, showgrid=True, gridcolor=GRID, gridwidth=1.5,
                 ticklabelstandoff=4),
    # middle: water (right), gas (outer left), choke (left)
    yaxis3=yaxis([0, 1500], 300, 75, 5, domain=mid_dom, anchor="x2", side="right", ticklen=10,
                 tickfont=small, showgrid=True, gridcolor=GRID, gridwidth=1.5,
                 ticklabelshift=-7, ticklabelstandoff=6),
    yaxis4=yaxis([0, 30000], 6000, 1500, 5, overlaying="y3", anchor="free", position=fx(72),
                 side="left", ticklen=10, tickfont=tiny, showgrid=False,
                 ticklabelshift=-8, ticklabelstandoff=5),
    yaxis5=yaxis([0, 64], 8, 2, 4, overlaying="y3", anchor="x2", side="left", ticklen=8,
                 tickfont=small, showgrid=True, gridcolor=GRID, gridwidth=1.5,
                 ticklabelshift=-7, ticklabelstandoff=16),
    # bottom: gas production
    yaxis6=yaxis([0, 30000], 6000, 1500, 4, domain=bot_dom, anchor="x3", side="left", ticklen=8,
                 tickfont=dict(family=SANS, size=15, color="#222", weight="bold"),
                 showgrid=True, gridcolor=GRID, gridwidth=1.5, mirror=True,
                 ticklabelstandoff=4),
)

# ---------------------------------------------------------------- legends (one per entry)
def legend_at(x, y, itemwidth):
    return dict(x=fx(x), y=fy(y), xanchor="left", yanchor="middle", orientation="h",
                bgcolor="rgba(0,0,0,0)", borderwidth=0, itemwidth=itemwidth,
                font=dict(family=NARROW, size=11.5, color="#222"),
                itemclick=False, itemdoubleclick=False)


fig.update_layout(
    legend=legend_at(390, 73, 58), legend2=legend_at(591, 73, 58),
    legend3=legend_at(786, 73, 58),
    legend4=legend_at(270, 478, 44), legend5=legend_at(549, 478, 44),
    legend6=legend_at(772, 478, 58),
    legend7=legend_at(708, 873, 44),
)

# ---------------------------------------------------------------- texts
ann = []


def text(x, y, s, size=12, color="#222", angle=0, family=NARROW, bold=False, **kw):
    a = dict(x=x, y=y, xref="paper", yref="paper", text=s, showarrow=False, textangle=angle,
             font=dict(family=family, size=size, color=color,
                       weight="bold" if bold else "normal"),
             xanchor="center", yanchor="middle")
    a.update(kw)
    ann.append(a)


text(fx(580), fy(38), "POZO AMISTAD 11ST1", size=25, bold=True, family=SANS)
text(fx(93), fy(208), "PRESIÓN (PSI)", size=16, bold=True, angle=-90, family=SANS)
text(fx(1052), fy(244), "CHOQUE", size=14, color="#8B4A22", angle=-90, family=SANS)
text(fx(578), fy(436), "FECHA (DÍAS)", size=11.5)
text(fx(583), fy(840), "FECHA (DÍAS)", size=11.5)
text(fx(17), fy(648), "PRODUCCIÓN GAS (MMPCS)", size=13.5, color="#1E9455", angle=-90,
     family=SANS)
text(fx(111), fy(646), "CHOQUE", size=14, color="#8B4A22", angle=-90, family=SANS)
text(fx(1065), fy(646), "APORTE AGUA", size=14.5, color="#2F63B3", angle=-90, family=SANS)
text(fx(72), fy(1168), "GAS_PRODUCCION_DYL", size=14, bold=True, angle=-90, family=SANS)
text(fx(578), fy(1492), "FECHA (DÍAS)", size=14, bold=True, family=SANS)

# event notes on the production history
EVENTS = [
    (2005.85, 15300, "INICIO DE PRODUCCIÓN"),
    (2006.11, 3000, "CIERRA EL POZO"),
    (2007.14, 15800, "REINICIA LA PRODUCCIÓN"),
    (2008.47, 17900, "CIERRA EL POZO."),
    (2009.98, 21050, "REINICIA LA PRODUCCIÓN"),
    (2015.85, 14650, "INICIA PRODUCCIÓN COMPARTIDA CON A15ST1"),
    (2016.49, 10250, "FIN DE PRODUCCIÓN COMPARTIDA"),
    (2016.82, 3400, "DEJO DE PRODUCIR"),
]
for ex, ey, s in EVENTS:
    ann.append(dict(x=to_date(ex), y=ey, xref="x3", yref="y6", text=s, showarrow=False,
                    textangle=-68, font=dict(family=NARROW, size=13, color="#1a1a1a"),
                    xanchor="center", yanchor="middle"))

fig.update_layout(annotations=ann)

shapes = [
    # page frame
    dict(type="line", xref="paper", yref="paper", x0=fx(9), x1=fx(9), y0=fy(6), y1=fy(1500),
         line=dict(color="#111", width=3)),
    dict(type="line", xref="paper", yref="paper", x0=fx(9), x1=fx(1073), y0=fy(6), y1=fy(6),
         line=dict(color="#111", width=3)),
    # axis-title keys
    dict(type="line", xref="paper", yref="paper", x0=fx(17), x1=fx(17), y0=fy(760), y1=fy(802),
         line=dict(color="#1E9455", width=1.5)),
    dict(type="rect", xref="paper", yref="paper", x0=fx(1051), x1=fx(1053.5), y0=fy(303.5),
         y1=fy(301), fillcolor=BROWN, line=dict(width=0)),
    dict(type="rect", xref="paper", yref="paper", x0=fx(110), x1=fx(112.5), y0=fy(707.5),
         y1=fy(705), fillcolor=BROWN, line=dict(width=0)),
]
fig.update_layout(shapes=shapes)

fig.update_layout(
    width=W, height=H, autosize=False,
    margin=dict(l=0, r=0, t=0, b=0, pad=0),
    paper_bgcolor="white", plot_bgcolor=BG,
    hovermode=False, showlegend=True,
)

fig.write_html("out.html")
